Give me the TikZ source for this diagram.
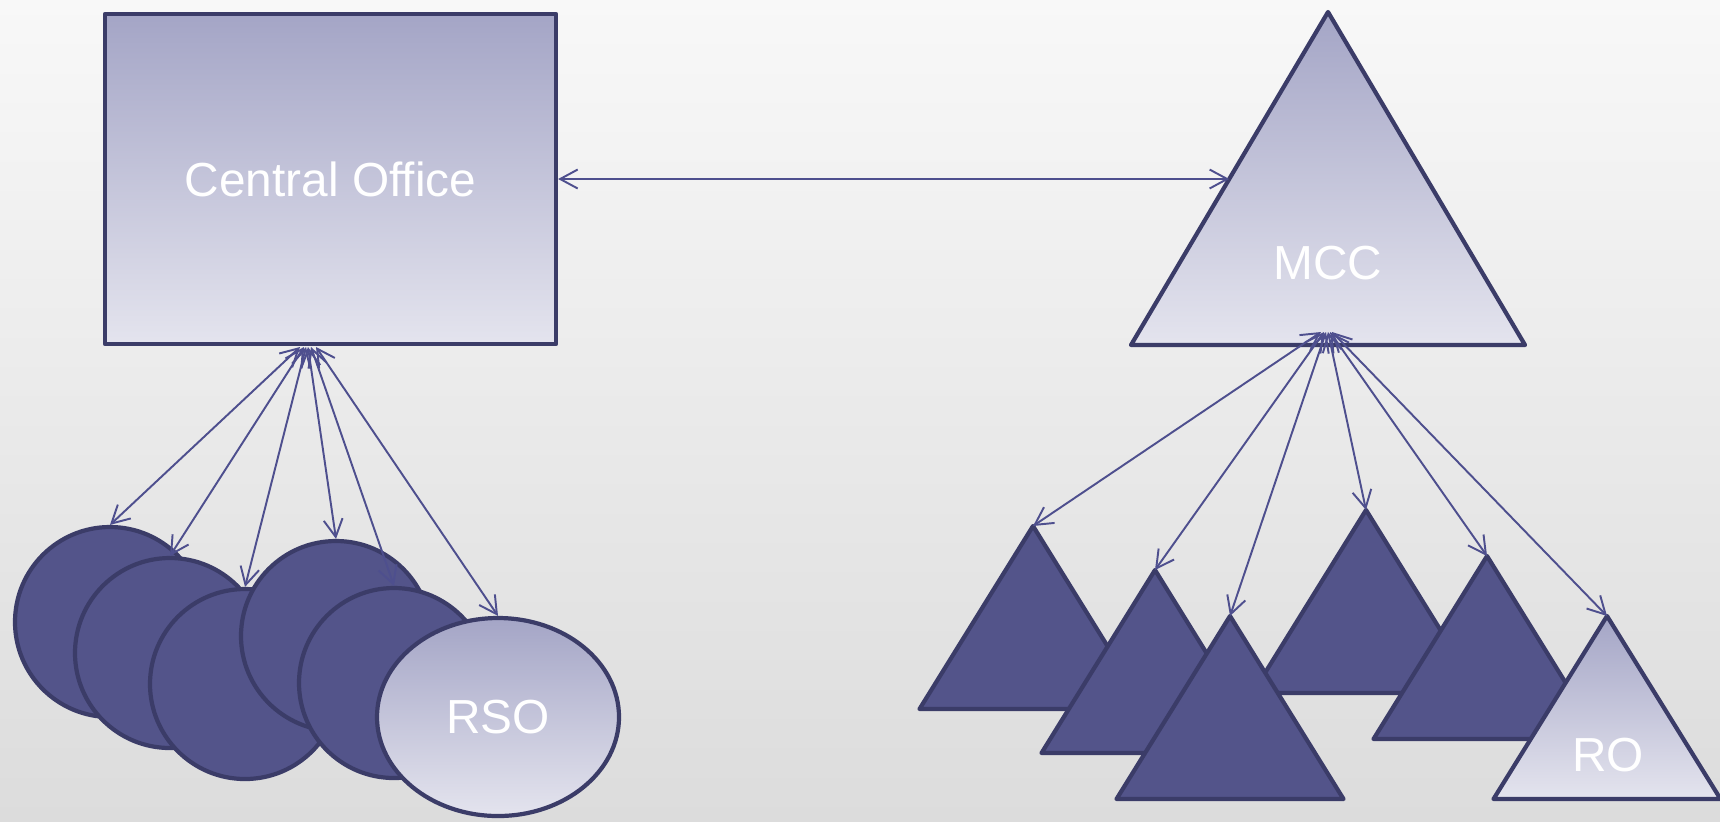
\documentclass[tikz,border=0pt]{standalone}
\usepackage{fontspec}
\setmainfont{Liberation Sans}[Ligatures=CommonOff]
\usetikzlibrary{shapes.geometric,arrows.meta,calc}
\definecolor{bgtop}{HTML}{F8F8F8}
\definecolor{bgbot}{HTML}{DCDCDC}
\definecolor{lighttop}{HTML}{A4A5C6}
\definecolor{lightbot}{HTML}{E4E4EE}
\definecolor{darkfill}{HTML}{53548A}
\definecolor{edge}{HTML}{3B3C68}
\definecolor{wire}{HTML}{4E4F8E}
\tikzset{
	nametext/.style={text=white, font=\fontsize{13.6}{15}\selectfont},
	office/.style={nametext, draw=edge, line width=1.2pt, top color=lighttop, bottom color=lightbot, inner sep=0pt},
	sub/.style={circle, draw=edge, line width=1.2pt, fill=darkfill, minimum size=19mm, inner sep=0pt},
	dark/.style={draw=edge, line width=1.2pt, fill=darkfill},
	light/.style={draw=edge, line width=1.2pt, top color=lighttop, bottom color=lightbot},
	link/.style={draw=wire, line width=0.55pt, {Straight Barb[length=5pt,width=5.4pt]}-{Straight Barb[length=5pt,width=5.4pt]}}
}
\begin{document}
\begin{tikzpicture}[x=0.1mm, y=-0.1mm, line join=round, line cap=round]
	\useasboundingbox (0,0) rectangle (1720,821);
	\shade[top color=bgtop, bottom color=bgbot] (0,0) rectangle (1720,821);
	\node[office, rectangle, minimum width=45.1mm, minimum height=33mm] (co) at (330.5,179) {Central Office};
	\coordinate (mcctop)   at (1328,12);
	\coordinate (mccleft)  at (1131,345);
	\coordinate (mccright) at (1525,345);
	\path[light] (mcctop) -- (mccleft) -- (mccright) -- cycle;
	\node[nametext] (mcc) at (1328,263) {MCC};
	\coordinate (cohub)   at (308,347);
	\coordinate (mcchub)  at (1327,332);
	\coordinate (mccwest) at ($(mcctop)!0.5015!(mccleft)$);
	\draw[link] (co.east) -- (mccwest);
	\node[sub] (s1) at (110,622) {};
	\node[sub] (s2) at (170,653) {};
	\node[sub] (s3) at (245,684) {};
	\node[sub] (s4) at (336,636) {};
	\node[sub] (s5) at (394,683) {};
	\node[office, ellipse, minimum width=24.2mm, minimum height=19.8mm] (rso) at (498,717) {RSO};
	\foreach \n/\x/\y in {t1/1033/526, t2/1155/570, t4/1366/510, t3/1230/616, t5/1487/556}{
		\coordinate (\n) at (\x,\y);
		\path[dark] (\n) -- ++(-113.5,183) -- ++(227,0) -- cycle;
	}
	\coordinate (ro) at (1607,616);
	\path[light] (ro) -- ++(-113.5,183) -- ++(227,0) -- cycle;
	\node[nametext] (rotext) at (1608,755) {RO};
	\foreach \s/\dx in {s1/-8, s2/-4, s3/-2, s4/0, s5/3, rso/8}
		\draw[link] ([shift={(\dx,0)}]cohub) -- (\s.north);
	\foreach \t/\dx in {t1/-6, t2/-3, t3/-1, t4/1, t5/3, ro/5}
		\draw[link] ([shift={(\dx,0)}]mcchub) -- (\t);
\end{tikzpicture}
\end{document}
